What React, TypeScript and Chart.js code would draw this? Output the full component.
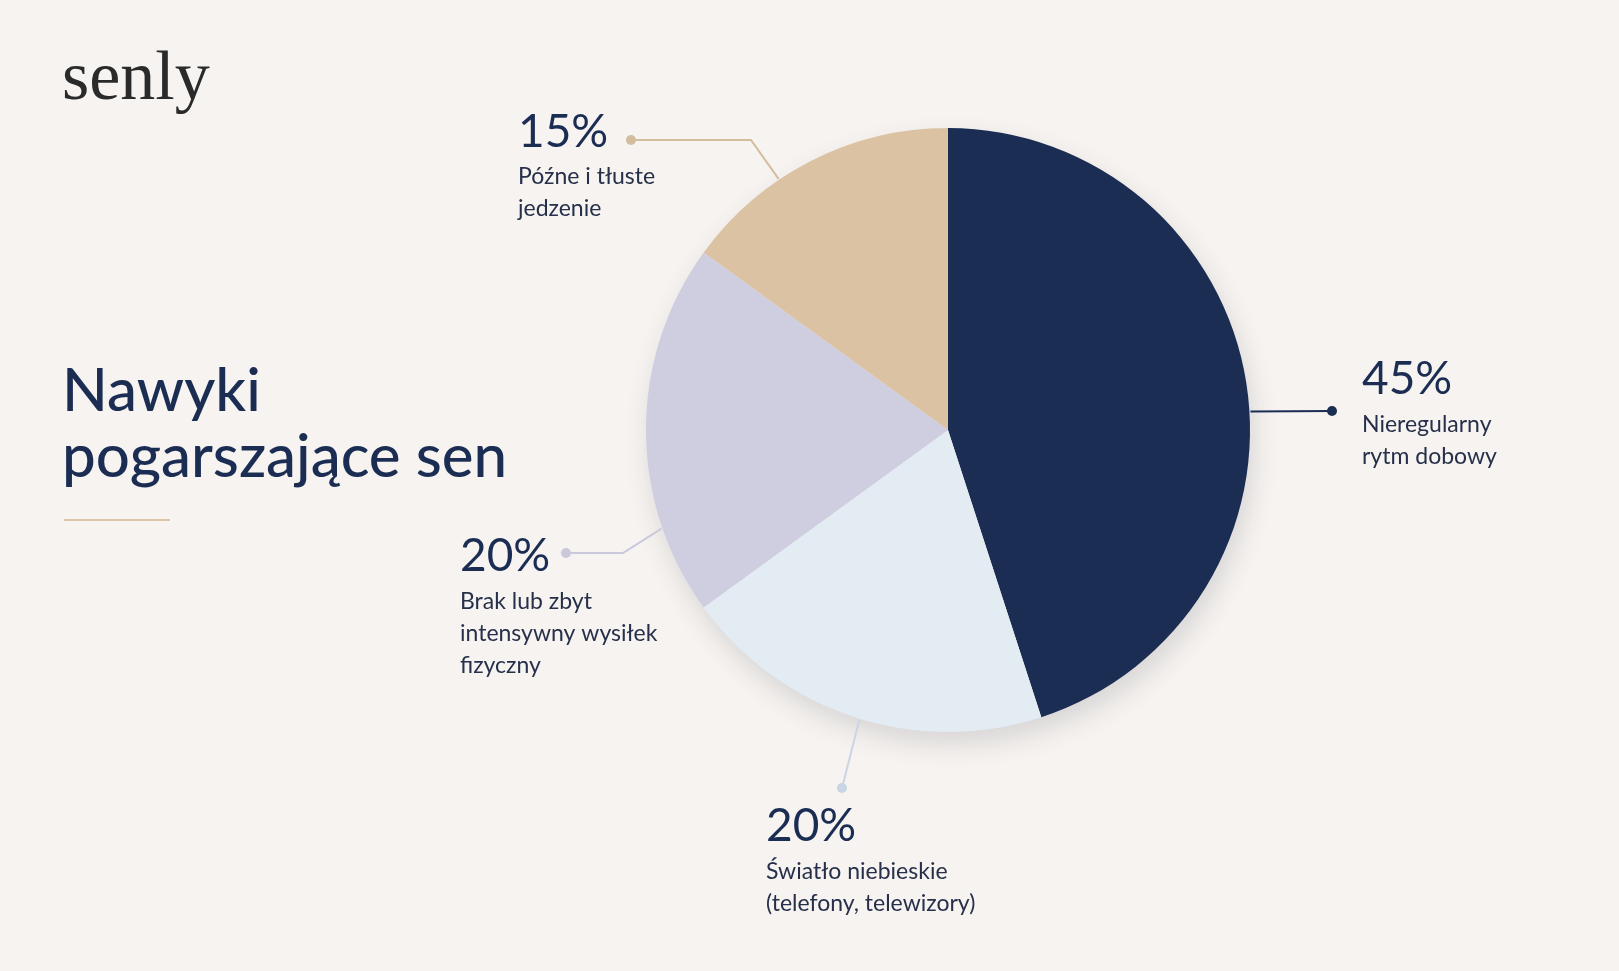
import React, { useEffect, useRef } from "react";
import { Chart, registerables } from "chart.js";

Chart.register(...registerables);

const categories = [
  "Nieregularny rytm dobowy",
  "Światło niebieskie (telefony, telewizory)",
  "Brak lub zbyt intensywny wysiłek fizyczny",
  "Późne i tłuste jedzenie",
];
const values = [45, 20, 20, 15];
const percentLabels = ["45%", "20%", "20%", "15%"];
const descriptionLines = [
  ["Nieregularny", "rytm dobowy"],
  ["Światło niebieskie", "(telefony, telewizory)"],
  ["Brak lub zbyt", "intensywny wysiłek", "fizyczny"],
  ["Późne i tłuste", "jedzenie"],
];
const sliceColors = ["#1b2d53", "#e3ebf3", "#cfcde0", "#dbc2a2"];
const lineColors = ["#1b2d53", "#c9d5e3", "#cbc8dc", "#d4bd9f"];

const titleLines = ["Nawyki", "pogarszające sen"];
const brand = "senly";

// label layout (pixel positions, styling only)
const labelLayout = [
  { angle: 86.5, elbow: null as null | [number, number], dot: [1332, 411], textX: 1362, pctY: 394, lineY: [432, 464] },
  { angle: 197, elbow: null as null | [number, number], dot: [842, 788], textX: 766, pctY: 841, lineY: [879, 911] },
  { angle: 251, elbow: [623, 553] as [number, number], dot: [566, 553], textX: 460, pctY: 571, lineY: [609, 641, 673] },
  { angle: 326, elbow: [751, 140] as [number, number], dot: [631, 140], textX: 518, pctY: 147, lineY: [184, 216] },
];

const BG = "#f6f3f0";
const NAVY = "#1b2d53";
const FONT = "Lato, 'Noto Sans', sans-serif";

const decorPlugin = {
  id: "decor",
  beforeDatasetsDraw(chart: any) {
    const meta = chart.getDatasetMeta(0);
    const arc = meta.data[0];
    if (!arc) return;
    const { x, y, outerRadius } = arc.getProps(["x", "y", "outerRadius"], true);
    const ctx = chart.ctx;
    ctx.save();
    ctx.shadowColor = "rgba(40,40,60,0.16)";
    ctx.shadowBlur = 28;
    ctx.shadowOffsetY = 12;
    ctx.shadowOffsetX = 4;
    ctx.fillStyle = BG;
    ctx.beginPath();
    ctx.arc(x, y, outerRadius - 2, 0, Math.PI * 2);
    ctx.fill();
    ctx.restore();
  },
  afterDraw(chart: any) {
    const ctx = chart.ctx;
    const meta = chart.getDatasetMeta(0);
    ctx.save();
    // brand
    ctx.fillStyle = "#2a2a2a";
    ctx.font = "400 70px 'Liberation Serif', serif";
    ctx.textBaseline = "alphabetic";
    ctx.textAlign = "left";
    ctx.fillText(brand, 62, 99);
    // title
    ctx.fillStyle = NAVY;
    ctx.font = `500 60px ${FONT}`;
    ctx.fillText(titleLines[0], 62, 411);
    ctx.fillText(titleLines[1], 62, 477);
    // separator
    ctx.strokeStyle = "#dcc6a9";
    ctx.lineWidth = 2;
    ctx.beginPath();
    ctx.moveTo(64, 520);
    ctx.lineTo(170, 520);
    ctx.stroke();

    values.forEach((_, i) => {
      const el = meta.data[i];
      if (!el) return;
      const { x, y, outerRadius } = el.getProps(["x", "y", "outerRadius"], true);
      const L = labelLayout[i];
      const a = (L.angle * Math.PI) / 180;
      const sx = x + (outerRadius + 1) * Math.sin(a);
      const sy = y - (outerRadius + 1) * Math.cos(a);
      ctx.strokeStyle = lineColors[i];
      ctx.lineWidth = 2;
      ctx.beginPath();
      ctx.moveTo(sx, sy);
      if (L.elbow) ctx.lineTo(L.elbow[0], L.elbow[1]);
      ctx.lineTo(L.dot[0], L.dot[1]);
      ctx.stroke();
      ctx.fillStyle = lineColors[i];
      ctx.beginPath();
      ctx.arc(L.dot[0], L.dot[1], 5, 0, Math.PI * 2);
      ctx.fill();

      ctx.fillStyle = NAVY;
      ctx.font = `400 46px ${FONT}`;
      ctx.fillText(percentLabels[i], L.textX, L.pctY);
      ctx.fillStyle = "#26304a";
      ctx.font = `400 23px ${FONT}`;
      descriptionLines[i].forEach((line, j) => {
        ctx.fillText(line, L.textX, L.lineY[j]);
      });
    });
    ctx.restore();
  },
};

export default function App() {
  const ref = useRef<HTMLCanvasElement | null>(null);
  useEffect(() => {
    document.body.style.margin = "0";
    document.body.style.background = BG;
    if (!ref.current) return;
    const chart = new Chart(ref.current, {
      type: "pie",
      data: {
        labels: categories,
        datasets: [
          {
            data: values,
            backgroundColor: sliceColors,
            borderWidth: 0,
          },
        ],
      },
      options: {
        responsive: false,
        animation: false,
        layout: { padding: { left: 646, right: 369, top: 128, bottom: 239 } },
        plugins: {
          legend: { display: false },
          tooltip: { enabled: false },
        },
      },
      plugins: [decorPlugin],
    });
    return () => chart.destroy();
  }, []);
  return (
    <div style={{ width: 1619, height: 971, background: BG, position: "relative" }}>
      <canvas ref={ref} width={1619} height={971} style={{ width: 1619, height: 971, display: "block" }} />
    </div>
  );
}
